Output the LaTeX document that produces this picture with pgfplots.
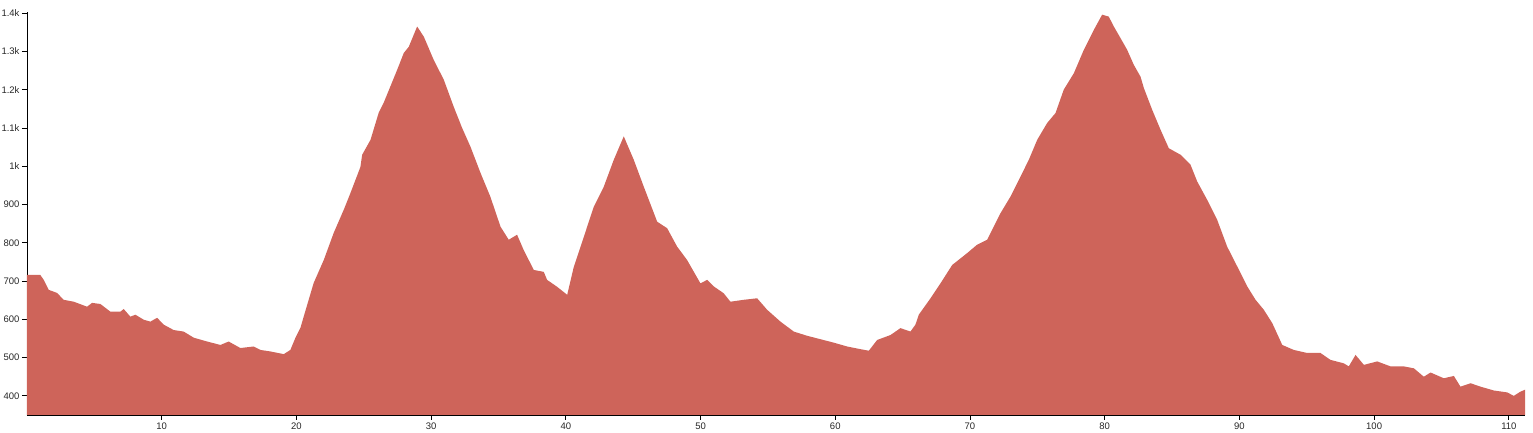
\documentclass[border=0pt]{standalone}
\usepackage{pgfplots}
\pgfplotsset{compat=1.18}
\usepackage{fontspec}
\setmainfont{Liberation Sans}
\definecolor{elev}{RGB}{206,100,90}
\definecolor{labelgray}{RGB}{40,40,40}

\begin{document}
\begin{tikzpicture}
\begin{axis}[
  scale only axis,
  width=1498pt, height=403pt,
  xmin=0, xmax=111.2,
  ymin=350, ymax=1403,
  axis x line=bottom, axis y line=left,
  axis line style={-, line width=0.9pt, black},
  xtick={10,20,...,110},
  ytick={400,500,...,1400},
  yticklabels={400,500,600,700,800,900,1k,1.1k,1.2k,1.3k,1.4k},
  tick style={line width=0.8pt, black},
  major tick length=5pt,
  tick align=outside,
  ticklabel style={font=\fontsize{9.5}{10}\selectfont, text=labelgray},
  /pgf/number format/assume math mode=true,
  xticklabel style={yshift=1pt},
  yticklabel style={xshift=1pt},
  clip=true,
]
% elevation profile
\addplot[fill=elev, draw=none] coordinates {
  (0,716) (0.99,716) (1.24,703) (1.61,677) (2.23,669) (2.72,651) (3.47,646)
  (4.46,633) (4.83,643) (5.45,640) (6.19,620) (6.93,620) (7.18,627) (7.67,607)
  (8.05,612) (8.66,599) (9.16,594) (9.66,604) (10.15,586) (10.89,572) (11.63,568)
  (12.38,552) (13.37,542) (14.36,533) (14.97,542) (15.84,525) (16.83,529)
  (17.33,520) (18.07,516) (19.06,509) (19.55,520) (19.93,552) (20.30,578)
  (20.54,607) (21.28,695) (22.03,755) (22.77,826) (23.51,886) (24.01,930)
  (24.75,998) (24.88,1030) (25.50,1069) (26.11,1140) (26.48,1166) (27.48,1252)
  (27.97,1296) (28.34,1312) (28.96,1365) (29.45,1339) (30.19,1278) (30.94,1226)
  (31.68,1155) (32.30,1100) (32.92,1051) (33.66,983) (34.40,920) (35.15,842)
  (35.76,808) (36.38,821) (36.87,781) (37.62,729) (38.36,724) (38.61,703)
  (39.35,685) (40.10,664) (40.59,737) (41.33,815) (42.07,894) (42.81,946)
  (43.56,1017) (44.30,1078) (45.04,1017) (45.78,947) (46.78,855) (47.52,838)
  (48.26,790) (49.00,755) (49.99,694) (50.49,703) (50.98,686) (51.72,668)
  (52.22,646) (53.21,651) (54.20,655) (54.94,625) (55.93,594) (56.92,568)
  (57.91,557) (58.90,548) (59.89,539) (60.88,529) (61.87,522) (62.49,518)
  (63.11,546) (64.10,559) (64.84,577) (65.58,568) (65.95,586) (66.20,612)
  (67.07,655) (67.81,694) (68.68,742) (69.79,773) (70.53,795) (71.28,808)
  (72.26,877) (73.01,921) (73.75,973) (74.37,1017) (74.99,1069) (75.73,1113)
  (76.35,1139) (76.96,1200) (77.71,1243) (78.45,1304) (79.19,1356) (79.81,1396)
  (80.30,1391) (80.68,1365) (81.17,1335) (81.67,1304) (82.16,1265) (82.66,1234)
  (82.91,1204) (83.53,1147) (84.15,1095) (84.76,1047) (85.63,1030) (86.37,1004)
  (86.87,960) (87.61,912) (88.35,860) (89.09,790) (89.84,738) (90.58,686)
  (91.20,651) (91.81,625) (92.44,590) (93.18,533) (94.04,520) (95.03,512)
  (96.02,512) (96.76,494) (97.75,485) (98.12,477) (98.62,507) (99.24,481)
  (100.23,490) (101.22,477) (102.20,477) (102.95,472) (103.69,450) (104.19,461)
  (105.17,446) (105.92,452) (106.41,424) (107.16,433) (107.90,424) (108.89,414)
  (109.88,409) (110.37,400) (110.86,411) (111.2,416)
} \closedcycle;
\end{axis}
\pgfresetboundingbox
\useasboundingbox (-27pt,-18pt) rectangle (1506pt,415pt);
\end{tikzpicture}
\end{document}
